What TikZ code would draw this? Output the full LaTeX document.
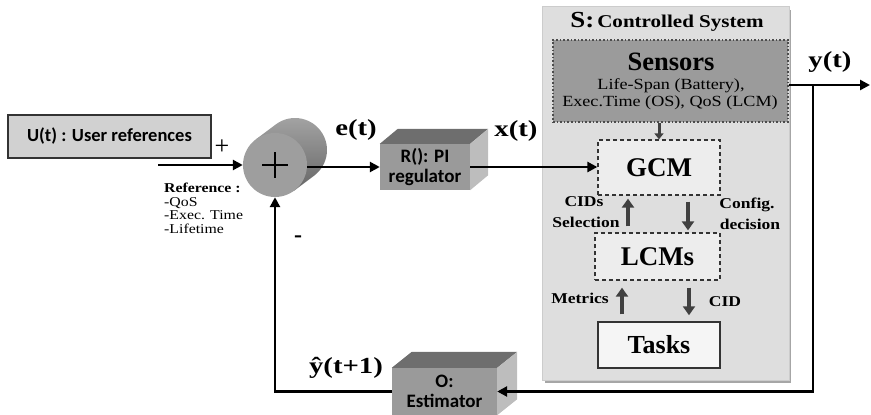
\documentclass[tikz,border=0pt]{standalone}
\usepackage{fontspec}
\setmainfont{Liberation Serif}
\newfontfamily\calfont{Carlito}
\newfontfamily\wideserif[FakeStretch=1.25]{Liberation Serif}
\newfontfamily\midserif[FakeStretch=1.17]{Liberation Serif}
\usetikzlibrary{arrows.meta,calc}
\definecolor{panelc}{HTML}{DEDEDE}
\definecolor{sensc}{HTML}{9B9B9B}
\definecolor{frontc}{HTML}{9A9A9A}
\definecolor{topc}{HTML}{6E6E6E}
\definecolor{sidec}{HTML}{BDBDBD}
\definecolor{innerc}{HTML}{404040}
\begin{document}
\begin{tikzpicture}[x=1pt,y=-1pt,
  flow/.style={line width=2.6pt,-{Triangle[length=10pt,width=10pt]}},
  innerarrow/.style={line width=4pt,draw=innerc,-{Triangle[length=9pt,width=12pt]}},
  smallarrow/.style={line width=3pt,draw=innerc,-{Triangle[length=6pt,width=9pt]}},
  frontface/.style={fill=frontc,inner sep=0pt,align=center,font=\calfont\bfseries\fontsize{19}{20.5}\selectfont},
  dashbox/.style={draw=black!80,dashed,dash pattern=on 4pt off 3pt,line width=1.3pt,fill=black!7,inner sep=0pt,font=\bfseries\fontsize{27}{29}\selectfont},
  sig/.style={font=\wideserif\bfseries\fontsize{23}{25}\selectfont,inner sep=0pt},
  inlbl/.style={font=\midserif\bfseries\fontsize{15}{16}\selectfont,inner sep=0pt,align=center},
]
\useasboundingbox (0,0) rectangle (871,415);

% controlled system panel
\fill[black!35] (545,10) rectangle (791,383);
\node[fill=panelc,draw=black!20,minimum width=247,minimum height=374,inner sep=0pt] (sys) at (665.5,193.5) {};
\node[inner sep=0pt,font=\midserif\bfseries] (title) at (667,22) {{\fontsize{23}{24}\selectfont S:} {\fontsize{18}{20}\selectfont Controlled System}};

% sensors
\node[fill=sensc,draw=black!70,dotted,line width=1.6pt,minimum width=235,minimum height=82,inner sep=0pt] (sens) at (670.5,81) {};
\node[inner sep=0pt,font=\bfseries\fontsize{26.5}{28}\selectfont] (senst) at (671,62) {Sensors};
\node[inner sep=0pt,font=\midserif\fontsize{15.5}{17}\selectfont] (sl1) at (671,86) {Life-Span (Battery),};
\node[inner sep=0pt,font=\midserif\fontsize{15.5}{17}\selectfont] (sl2) at (670,103) {Exec.Time (OS), QoS (LCM)};

% inner boxes
\node[dashbox,minimum width=122,minimum height=55] (gcm) at (659,167.5) {GCM};
\node[dashbox,minimum width=125,minimum height=47] (lcm) at (657.5,256.5) {LCMs};
\node[draw=black!80,line width=1.5pt,fill=black!4,minimum width=122,minimum height=46,inner sep=0pt,font=\bfseries\fontsize{26}{28}\selectfont] (tasks) at (659,345) {Tasks};

% inner arrows
\coordinate (xa) at (628,0);
\coordinate (xb) at (688,0);
\coordinate (xc) at (622,0);
\coordinate (xd) at (689,0);
\draw[smallarrow] (sens.south -| gcm.north) -- (gcm.north);
\draw[innerarrow,shorten <=6pt,shorten >=3pt] (lcm.north -| xa) -- (gcm.south -| xa);
\draw[innerarrow,shorten <=6pt,shorten >=2pt] (gcm.south -| xb) -- (lcm.north -| xb);
\draw[innerarrow,shorten <=7pt,shorten >=7pt] (tasks.north -| xc) -- (lcm.south -| xc);
\draw[innerarrow,shorten <=7pt,shorten >=6pt] (lcm.south -| xd) -- (tasks.north -| xd);
\node[inlbl] (cids) at (584,202) {CIDs};
\node[inlbl] (sel) at (586,222) {Selection};
\node[inlbl] (conf) at (747,205) {Config.};
\node[inlbl] (dec) at (750,224) {decision};
\node[inlbl] (met) at (580,298) {Metrics};
\node[inlbl] (cid) at (725,302) {CID};

% user reference box
\node[draw=black!80,line width=1.2pt,fill=black!18,minimum width=203,minimum height=43,inner sep=0pt,font=\calfont\bfseries\fontsize{18.5}{20}\selectfont] (u) at (109.5,136.5) {U(t) : User references};
\node[inner sep=0pt,font=\fontsize{26}{26}\selectfont] (plus) at (222,147) {+};
\node[anchor=north west,inner sep=0pt,align=left,font=\midserif\fontsize{13.5}{13.5}\selectfont] (refl) at (164,183) {\textbf{Reference :}\\-QoS\\-Exec. Time\\-Lifetime};

% summing junction (cylinder)
\shade[top color=black!35,bottom color=black!60] (255.8,139.4) -- (275.8,124.4) arc[start angle=233.13,end angle=413.13,radius=32] -- (294.2,190.6) -- cycle;
\node[circle,fill=black!38,minimum size=64,inner sep=0pt] (sum) at (275,165) {};
\draw[line width=2.2pt] ($(sum.center)+(-13,0)$) -- ($(sum.center)+(13,0)$);
\draw[line width=2.2pt] ($(sum.center)+(0,-13)$) -- ($(sum.center)+(0,13)$);
\node[inner sep=0pt,font=\bfseries\fontsize{24}{24}\selectfont] (minus) at (298,239) {-};

% PI regulator box
\node[frontface,minimum width=90,minimum height=46] (pi) at (425,167) {R(): PI\\regulator};
\fill[topc] (pi.north west) -- ++(18,-15) -- ([shift={(18,-15)}]pi.north east) -- (pi.north east) -- cycle;
\fill[sidec] (pi.north east) -- ++(18,-15) -- ([shift={(18,-15)}]pi.south east) -- (pi.south east) -- cycle;

% estimator box
\node[frontface,minimum width=105,minimum height=47] (est) at (444.5,391.5) {O:\\Estimator};
\fill[topc] (est.north west) -- ++(20,-16) -- ([shift={(20,-16)}]est.north east) -- (est.north east) -- cycle;
\fill[sidec] (est.north east) -- ++(20,-16) -- ([shift={(20,-16)}]est.south east) -- (est.south east) -- cycle;

% connectors
\coordinate (uin) at (158,165);
\draw[flow] (uin) -- (sum.west);
\draw[flow] (sum.east |- pi.west) -- (pi.west);
\draw[flow] (pi.east) -- (pi.east -| gcm.west);
\coordinate (yend) at (870,85);
\coordinate (ybr) at (813,85);
\draw[flow] (yend -| sens.east) -- (yend);
\draw[flow] (ybr) -- (ybr |- est.east) -- (est.east);
\draw[flow] (est.west) -- (est.west -| sum.south) -- (sum.south);

% signal labels
\node[sig] (et) at (356,130) {e(t)};
\node[sig] (xt) at (516,131) {x(t)};
\node[sig] (yt) at (830,62) {y(t)};
\node[sig] (yh) at (346,368) {ŷ(t+1)};
\end{tikzpicture}
\end{document}
